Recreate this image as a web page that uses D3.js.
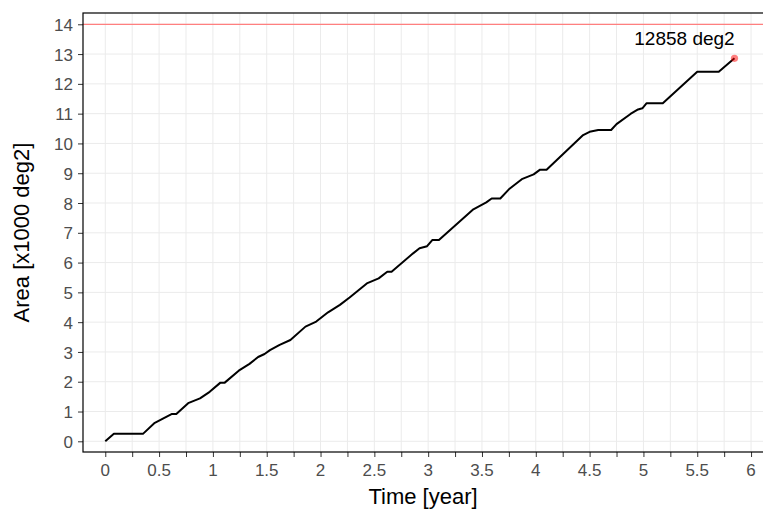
<!DOCTYPE html>
<html lang="en">
<head>
    <meta charset="UTF-8">
    <title>Area vs Time</title>
    <script src="https://d3js.org/d3.v7.min.js"></script>
    <style>
        body { margin: 0; padding: 0; background: white; }
        svg { display: block; font-family: "Liberation Sans", Arial, Helvetica, sans-serif; }
        .grid line { stroke: #ebebeb; stroke-width: 1px; }
        .tick-label { fill: #4d4d4d; font-size: 17px; }
        .axis-title { fill: #000; font-size: 22px; }
    </style>
</head>
<body>
<div id="chart"></div>
<script>
    // cumulative area
    const timeYears = [0, 0.08, 0.35, 0.46, 0.54, 0.62, 0.66, 0.77, 0.88, 0.97, 1.07, 1.11, 1.24, 1.34, 1.42, 1.48,
        1.53, 1.62, 1.72, 1.86, 1.96, 2.07, 2.18, 2.27, 2.43, 2.54, 2.62, 2.66, 2.86, 2.92, 2.99, 3.04, 3.10,
        3.42, 3.54, 3.59, 3.67, 3.75, 3.87, 3.98, 4.04, 4.10, 4.44, 4.50, 4.58, 4.70, 4.75, 4.88, 4.95, 4.99,
        5.03, 5.18, 5.50, 5.70, 5.846];
    const areaK = [0, 0.25, 0.25, 0.62, 0.77, 0.92, 0.92, 1.28, 1.44, 1.66, 1.97, 1.97, 2.37, 2.6, 2.83, 2.93,
        3.06, 3.24, 3.40, 3.85, 4.02, 4.33, 4.58, 4.83, 5.30, 5.47, 5.69, 5.69, 6.31, 6.48, 6.55, 6.76, 6.76,
        7.79, 8.02, 8.15, 8.15, 8.46, 8.80, 8.96, 9.12, 9.12, 10.28, 10.39, 10.45, 10.45, 10.65, 10.99, 11.14, 11.18,
        11.35, 11.35, 12.41, 12.41, 12.858];
    const targetArea = 14;
    const finalLabel = "12858 deg2";

    const xTicks = d3.range(0, 6.01, 0.25);
    const xLabels = ["0", "0.5", "1", "1.5", "2", "2.5", "3", "3.5", "4", "4.5", "5", "5.5", "6"];
    const yTicks = d3.range(0, 15, 1);

    const width = 763, height = 510;
    const panel = { left: 83, top: 13, right: 763, bottom: 452 };

    const x = d3.scaleLinear().domain([-0.207, 6.111]).range([panel.left, panel.right]);
    const y = d3.scaleLinear().domain([-0.359, 14.379]).range([panel.bottom, panel.top]);

    const svg = d3.select("#chart").append("svg").attr("width", width).attr("height", height);

    // grid
    const grid = svg.append("g").attr("class", "grid");
    grid.selectAll(".gx").data(xTicks).enter().append("line")
        .attr("x1", d => x(d)).attr("x2", d => x(d))
        .attr("y1", panel.top).attr("y2", panel.bottom);
    grid.selectAll(".gy").data(yTicks).enter().append("line")
        .attr("x1", panel.left).attr("x2", panel.right)
        .attr("y1", d => y(d)).attr("y2", d => y(d));

    // target line
    svg.append("line")
        .attr("x1", panel.left).attr("x2", panel.right)
        .attr("y1", y(targetArea)).attr("y2", y(targetArea))
        .attr("stroke", "#ff7f7f").attr("stroke-width", 1.3);

    const data = timeYears.map((t, i) => ({ t: t, a: areaK[i] }));
    const line = d3.line().x(d => x(d.t)).y(d => y(d.a));
    svg.append("path")
        .datum(data)
        .attr("d", line)
        .attr("fill", "none")
        .attr("stroke", "#000")
        .attr("stroke-width", 2)
        .attr("stroke-linejoin", "round");

    const last = data[data.length - 1];
    svg.append("circle")
        .attr("cx", x(last.t)).attr("cy", y(last.a)).attr("r", 3.6)
        .attr("fill", "#ff0000").attr("fill-opacity", 0.5);
    svg.append("text")
        .attr("x", x(last.t) - 50).attr("y", y(last.a) - 13)
        .attr("text-anchor", "middle")
        .style("font-size", "19px")
        .text(finalLabel);

    // axes with ggplot look
    const xAxis = d3.axisBottom(x).tickValues(xTicks).tickSize(5).tickFormat(() => "");
    svg.append("g").attr("transform", `translate(0,${panel.bottom})`).call(xAxis)
        .call(g => g.select(".domain").remove())
        .call(g => g.selectAll(".tick line").attr("stroke", "#333").attr("stroke-width", 1));
    svg.selectAll(".xlab").data(xLabels).enter().append("text")
        .attr("class", "tick-label")
        .attr("x", d => x(+d)).attr("y", 476)
        .attr("text-anchor", "middle")
        .text(d => d);

    const yAxis = d3.axisLeft(y).tickValues(yTicks).tickSize(5).tickPadding(5);
    svg.append("g").attr("transform", `translate(${panel.left},0)`).call(yAxis)
        .call(g => g.select(".domain").remove())
        .call(g => g.selectAll(".tick line").attr("stroke", "#333").attr("stroke-width", 1))
        .call(g => g.selectAll(".tick text").attr("class", "tick-label").attr("font-size", null)
            .attr("font-family", null).attr("dy", "0.36em"));

    // panel border
    svg.append("rect")
        .attr("x", panel.left).attr("y", panel.top)
        .attr("width", panel.right - panel.left + 1).attr("height", panel.bottom - panel.top)
        .attr("fill", "none").attr("stroke", "#000").attr("stroke-width", 1.2);

    svg.append("text").attr("class", "axis-title")
        .attr("x", (panel.left + panel.right) / 2).attr("y", 504)
        .attr("text-anchor", "middle")
        .text("Time [year]");
    svg.append("text").attr("class", "axis-title")
        .attr("transform", `translate(29,${(panel.top + panel.bottom) / 2}) rotate(-90)`)
        .attr("text-anchor", "middle")
        .text("Area [x1000 deg2]");
</script>
</body>
</html>
